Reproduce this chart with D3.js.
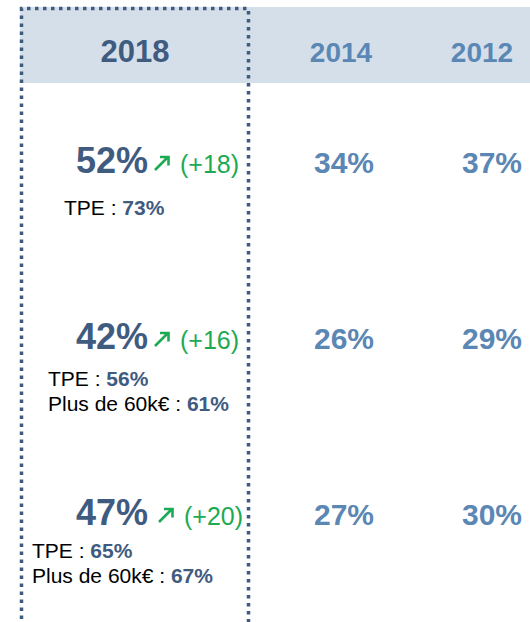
<!DOCTYPE html>
<html>
<head>
<meta charset="utf-8">
<script src="https://cdn.jsdelivr.net/npm/d3@7"></script>
<style>
  body { margin: 0; background: #fff; }
  text { font-family: "Liberation Sans", Arial, sans-serif; }
</style>
</head>
<body>
<div id="chart"></div>
<script>
// data
const years = ['2018', '2014', '2012'];
const values2018 = [52, 42, 47];
const deltas = [18, 16, 20];
const values2014 = [34, 26, 27];
const values2012 = [37, 29, 30];
const tpe = [73, 56, 65];
const plus60k = [null, 61, 67];

const width = 530;
const height = 622;

const dark = '#3f5b7f';
const light = '#5b87b5';
const green = '#1caa52';

const svg = d3.select('#chart')
  .append('svg')
  .attr('width', width)
  .attr('height', height);

// column centres and row baselines
const colX = d3.scaleOrdinal().domain(years).range([135, 341, 482]);
const rowY = d3.scalePoint().domain(d3.range(values2018.length)).range([173, 525]);
// indent and offset of the detail lines under each 2018 value
const subX = d3.scaleOrdinal().domain(d3.range(3)).range([64, 48, 32]);
const subDy = d3.scaleOrdinal().domain(d3.range(3)).range([42, 37, 33]);
const deltaShift = d3.scaleOrdinal().domain(d3.range(3)).range([0, 0, 4]);

// header band
svg.append('rect')
  .attr('x', 20).attr('y', 7)
  .attr('width', width - 20).attr('height', 76)
  .attr('fill', '#d5dfea');

svg.selectAll('.year')
  .data(years)
  .join('text')
  .attr('class', 'year')
  .attr('x', d => colX(d))
  .attr('y', 62)
  .attr('text-anchor', 'middle')
  .attr('font-weight', 'bold')
  .attr('font-size', (d, i) => i == 0 ? 31 : 28)
  .attr('fill', (d, i) => i == 0 ? dark : light)
  .text(d => d);

// 2018 main values
svg.selectAll('.main')
  .data(values2018)
  .join('text')
  .attr('class', 'main')
  .attr('x', 148)
  .attr('y', (d, i) => rowY(i))
  .attr('text-anchor', 'end')
  .attr('font-weight', 'bold')
  .attr('font-size', 36)
  .attr('fill', dark)
  .text(d => d + '%');

// up arrow + delta
svg.selectAll('.arrow')
  .data(deltas)
  .join('path')
  .attr('class', 'arrow')
  .attr('transform', (d, i) => `translate(${155 + deltaShift(i)},${rowY(i) - 3})`)
  .attr('d', 'M0,0 L13,-13 M5,-13 L13.5,-13 L13.5,-4.5')
  .attr('fill', 'none')
  .attr('stroke', green)
  .attr('stroke-width', 2.6);

svg.selectAll('.delta')
  .data(deltas)
  .join('text')
  .attr('class', 'delta')
  .attr('x', (d, i) => 180 + deltaShift(i))
  .attr('y', (d, i) => rowY(i))
  .attr('font-size', 25)
  .attr('fill', green)
  .text(d => '(+' + d + ')');

// detail lines
const tpeText = svg.selectAll('.tpe')
  .data(tpe)
  .join('text')
  .attr('class', 'tpe')
  .attr('x', (d, i) => subX(i))
  .attr('y', (d, i) => rowY(i) + subDy(i))
  .attr('font-size', 21)
  .attr('fill', '#000');
tpeText.append('tspan').text('TPE : ');
tpeText.append('tspan').attr('font-weight', 'bold').attr('fill', dark).text(d => d + '%');

const plusText = svg.selectAll('.plus')
  .data(plus60k.map((v, i) => ({v, i})).filter(d => d.v != null))
  .join('text')
  .attr('class', 'plus')
  .attr('x', d => subX(d.i))
  .attr('y', d => rowY(d.i) + subDy(d.i) + 25)
  .attr('font-size', 21)
  .attr('fill', '#000');
plusText.append('tspan').text('Plus de 60k\u20ac : ');
plusText.append('tspan').attr('font-weight', 'bold').attr('fill', dark).text(d => d.v + '%');

// older years
[[values2014, '2014'], [values2012, '2012']].forEach(([vals, yr]) => {
  svg.selectAll('.v' + yr)
    .data(vals)
    .join('text')
    .attr('class', 'v' + yr)
    .attr('x', colX(yr) + (yr == '2012' ? 10 : 3))
    .attr('y', (d, i) => rowY(i))
    .attr('text-anchor', 'middle')
    .attr('font-weight', 'bold')
    .attr('font-size', 30)
    .attr('fill', light)
    .text(d => d + '%');
});

// dotted frame around 2018
svg.append('path')
  .attr('d', `M21.5,${height + 5} L21.5,8.5 L248.5,8.5 L248.5,${height + 5}`)
  .attr('fill', 'none')
  .attr('stroke', dark)
  .attr('stroke-width', 3.5)
  .attr('stroke-dasharray', '3.5,4.5');
</script>
</body>
</html>
